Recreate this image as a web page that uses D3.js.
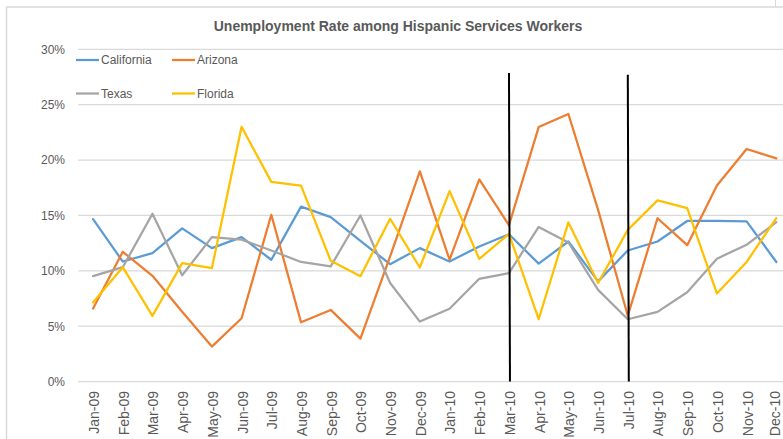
<!DOCTYPE html>
<html>
<head>
<meta charset="utf-8">
<script src="https://cdn.jsdelivr.net/npm/d3@7"></script>
<style>
  html, body { margin: 0; padding: 0; background: #fff; }
  svg { display: block; }
  text { font-family: "Liberation Sans", Arial, sans-serif; fill: #595959; }
</style>
</head>
<body>
<div id="chart"></div>
<script>
// ---- data ----
const title = "Unemployment Rate among Hispanic Services Workers";
const categories = ["Jan-09","Feb-09","Mar-09","Apr-09","May-09","Jun-09","Jul-09","Aug-09","Sep-09","Oct-09","Nov-09","Dec-09",
                    "Jan-10","Feb-10","Mar-10","Apr-10","May-10","Jun-10","Jul-10","Aug-10","Sep-10","Oct-10","Nov-10","Dec-10"];
const seriesNames = ["California","Arizona","Texas","Florida"];
const california = [14.67,10.84,11.6,13.83,12.05,13.04,11.0,15.8,14.85,12.7,10.6,12.05,10.84,12.2,13.3,10.65,12.65,9.05,11.84,12.65,14.5,14.5,14.46,10.8];
const arizona    = [6.6,11.72,9.55,6.3,3.16,5.72,15.06,5.36,6.47,3.88,11.3,18.98,11.0,18.25,14.12,22.98,24.16,15.5,5.95,14.75,12.32,17.7,21.0,20.15];
const texas      = [9.52,10.33,15.15,9.6,13.04,12.82,11.84,10.8,10.4,15.0,8.9,5.42,6.57,9.28,9.8,13.96,12.56,8.28,5.63,6.3,8.07,11.1,12.35,14.4];
const florida    = [7.14,10.33,5.93,10.7,10.24,23.0,18.03,17.7,10.9,9.52,14.7,10.3,17.2,11.08,13.34,5.63,14.37,8.9,13.7,16.36,15.66,7.95,10.8,14.76];
const yTicks = [0,5,10,15,20,25,30];
// annotation lines: category and top value (%)
const markerCategories = ["Mar-10","Jul-10"];
const markerTops = [27.85,27.7];

// ---- styles ----
const colors = ["#5B9BD5","#ED7D31","#A5A5A5","#FFC000"];

const W = 783, H = 439;
const svg = d3.select("#chart").append("svg").attr("width", W).attr("height", H);

// frame
svg.append("rect").attr("x",6.5).attr("y",7).attr("width",W+10).attr("height",H+10)
  .attr("fill","#fff").attr("stroke","#D9D9D9").attr("stroke-width",1.5);
svg.append("line").attr("x1",775.5).attr("x2",775.5).attr("y1",0).attr("y2",6)
  .attr("stroke","#D9D9D9").attr("stroke-width",1);

const x = d3.scaleBand().domain(categories).range([78.2, 791.2]).padding(0);
const cx = c => x(c) + x.bandwidth()/2;
const y = d3.scaleLinear().domain([0,30]).range([381.6, 49.3]);

// gridlines
svg.append("g").selectAll("line").data(yTicks).join("line")
  .attr("x1",78.2).attr("x2",W+5)
  .attr("y1",d=>y(d)).attr("y2",d=>y(d))
  .attr("stroke","#D9D9D9").attr("stroke-width",1.2);

// y axis labels
const yAxis = d3.axisLeft(y).tickValues(yTicks).tickSize(0).tickPadding(0).tickFormat(d => d + "%");
const gy = svg.append("g").attr("transform","translate(65,0)").call(yAxis);
gy.select(".domain").remove();
gy.selectAll("text").attr("font-size",12).attr("fill","#595959")
  .style("font-family","'Liberation Sans', Arial, sans-serif");

// x axis labels
const xAxis = d3.axisBottom(x).tickSize(0).tickPadding(0);
const gx = svg.append("g").attr("transform","translate(0,0)").call(xAxis);
gx.select(".domain").remove();
gx.selectAll(".tick text")
  .attr("font-size",14).attr("fill","#595959")
  .style("font-family","'Liberation Sans', Arial, sans-serif")
  .attr("text-anchor","end")
  .attr("transform",(d,i)=>`translate(${i === categories.length-1 ? -1.5 : 1},391) rotate(-90)`)
  .attr("x",0).attr("y",0).attr("dy","0.35em");

// lines
const allSeries = [california, arizona, texas, florida];
const line = d3.line().x((d,i)=>cx(categories[i])).y(d=>y(d));
svg.append("g").selectAll("path").data(allSeries).join("path")
  .attr("d", d=>line(d))
  .attr("fill","none")
  .attr("stroke",(d,i)=>colors[i])
  .attr("stroke-width",2.25)
  .attr("stroke-linejoin","round")
  .attr("stroke-linecap","round");

// annotation lines
svg.append("g").selectAll("line").data(markerCategories).join("line")
  .attr("x1",d=>cx(d)).attr("x2",d=>cx(d)+1)
  .attr("y1",(d,i)=>y(markerTops[i])).attr("y2",y(0))
  .attr("stroke","#000").attr("stroke-width",2);

// title
svg.append("text").attr("x",398).attr("y",31).attr("text-anchor","middle")
  .attr("font-size",14).attr("font-weight","bold").attr("fill","#595959").text(title);

// legend
const legendPos = [[76,60],[172,60],[76,93.5],[172,93.5]];
const lg = svg.append("g").selectAll("g").data(seriesNames).join("g")
  .attr("transform",(d,i)=>`translate(${legendPos[i][0]},${legendPos[i][1]})`);
lg.append("line").attr("x1",0).attr("x2",23).attr("y1",0).attr("y2",0)
  .attr("stroke",(d,i)=>colors[i]).attr("stroke-width",2.25);
lg.append("text").attr("x",25).attr("y",0).attr("dy","0.35em")
  .attr("font-size",12).attr("fill","#595959").text(d=>d);
</script>
</body>
</html>
